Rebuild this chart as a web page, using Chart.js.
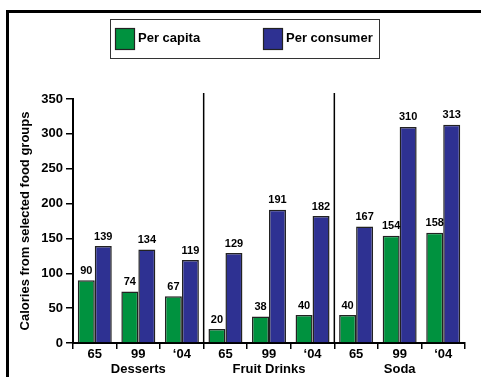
<!DOCTYPE html>
<html>
<head>
<meta charset="utf-8">
<script src="https://cdn.jsdelivr.net/npm/chart.js@4/dist/chart.umd.min.js"></script>
<style>
  html, body { margin: 0; padding: 0; background: #fff; }
  #wrap { width: 481px; height: 377px; }
</style>
</head>
<body>
<div id="wrap"><canvas id="c" width="481" height="377"></canvas></div>
<script>
// Years within each food group, repeated for the three groups
const years = ['65', '99', '\u201804', '65', '99', '\u201804', '65', '99', '\u201804'];
const groups = ['Desserts', 'Fruit Drinks', 'Soda'];
const perCapita = [90, 74, 67, 20, 38, 40, 40, 154, 158];
const perConsumer = [139, 134, 119, 129, 191, 182, 167, 310, 313];
const yTicks = [0, 50, 100, 150, 200, 250, 300, 350];
const seriesNames = ['Per capita', 'Per consumer'];

const GREEN = '#00923f';
const BLUE = '#2e3192';
const FONT = '"Liberation Sans", Arial, sans-serif';

// Frame, group separators, value labels and the boxed legend
const decorations = {
  id: 'decorations',
  beforeDraw(chart) {
    const ctx = chart.ctx;
    ctx.save();
    ctx.fillStyle = '#000';
    ctx.fillRect(6, 10, chart.width - 6, 3);
    ctx.fillRect(6, 10, 3, chart.height - 10);
    ctx.restore();
  },
  afterDatasetsDraw(chart) {
    const ctx = chart.ctx;
    const x = chart.scales.x;
    const area = chart.chartArea;
    ctx.save();
    // separators between food groups
    ctx.strokeStyle = '#000';
    ctx.lineWidth = 1.5;
    [3, 6].forEach(i => {
      const px = (x.getPixelForValue(i - 1) + x.getPixelForValue(i)) / 2;
      ctx.beginPath();
      ctx.moveTo(px, area.top - 6);
      ctx.lineTo(px, area.bottom);
      ctx.stroke();
    });
    // value labels above each bar
    ctx.fillStyle = '#000';
    ctx.font = 'bold 11px ' + FONT;
    ctx.textAlign = 'center';
    ctx.textBaseline = 'bottom';
    chart.data.datasets.forEach((ds, di) => {
      chart.getDatasetMeta(di).data.forEach((bar, i) => {
        ctx.fillText(String(ds.data[i]), bar.x, bar.y - 4);
      });
    });
    // legend
    const lx = 110, ly = 19, lw = 269, lh = 39;
    ctx.strokeStyle = '#333';
    ctx.lineWidth = 1;
    ctx.strokeRect(lx + 0.5, ly + 0.5, lw, lh);
    const items = [{ x: 115 }, { x: 263 }];
    ctx.font = 'bold 13px ' + FONT;
    ctx.textAlign = 'left';
    ctx.textBaseline = 'middle';
    chart.data.datasets.forEach((ds, di) => {
      const bx = items[di].x;
      ctx.fillStyle = ds.backgroundColor;
      ctx.fillRect(bx, 28, 20, 22);
      ctx.strokeStyle = '#222';
      ctx.lineWidth = 1.2;
      ctx.strokeRect(bx + 0.5, 28.5, 19, 21);
      ctx.fillStyle = '#000';
      ctx.fillText(ds.label, bx + 23, 38);
    });
    ctx.restore();
  }
};

new Chart(document.getElementById('c'), {
  type: 'bar',
  data: {
    labels: years,
    datasets: [
      { label: seriesNames[0], data: perCapita, backgroundColor: GREEN, borderColor: '#222', borderWidth: 1.5 },
      { label: seriesNames[1], data: perConsumer, backgroundColor: BLUE, borderColor: '#222', borderWidth: 1.5 }
    ]
  },
  options: {
    responsive: false,
    animation: false,
    devicePixelRatio: 1,
    categoryPercentage: 0.78,
    barPercentage: 1.0,
    layout: { padding: { top: 99, left: 14, right: 16, bottom: 0 } },
    plugins: {
      legend: { display: false },
      tooltip: { enabled: false }
    },
    scales: {
      x: {
        position: 'bottom',
        afterFit(scale) { scale.height = 17; },
        grid: { display: true, drawOnChartArea: false, offset: true, tickLength: 6, color: '#000', lineWidth: 1.5 },
        border: { display: true, color: '#000', width: 2 },
        ticks: { color: '#000', font: { family: FONT, size: 13, weight: 'bold', lineHeight: 1 }, padding: -1, maxRotation: 0, autoSkip: false }
      },
      g: {
        type: 'category',
        labels: groups,
        position: 'bottom',
        offset: true,
        afterFit(scale) { scale.height = 17; },
        grid: { display: false },
        border: { display: false },
        ticks: { color: '#000', font: { family: FONT, size: 13, weight: 'bold', lineHeight: 1 }, padding: -5.5, maxRotation: 0 }
      },
      y: {
        min: 0,
        max: 350,
        afterBuildTicks(scale) { scale.ticks = yTicks.map(v => ({ value: v })); },
        afterFit(scale) { scale.width = 59; },
        grid: { display: true, drawOnChartArea: false, tickLength: 7, color: '#000', lineWidth: 1.5 },
        border: { display: true, color: '#000', width: 2 },
        ticks: { color: '#000', font: { family: FONT, size: 13, weight: 'bold' }, padding: 3 },
        title: {
          display: true,
          text: 'Calories from selected food groups',
          color: '#000',
          font: { family: FONT, size: 13, weight: 'bold' },
          padding: { top: 4, bottom: 4 }
        }
      }
    }
  },
  plugins: [decorations]
});
</script>
</body>
</html>
